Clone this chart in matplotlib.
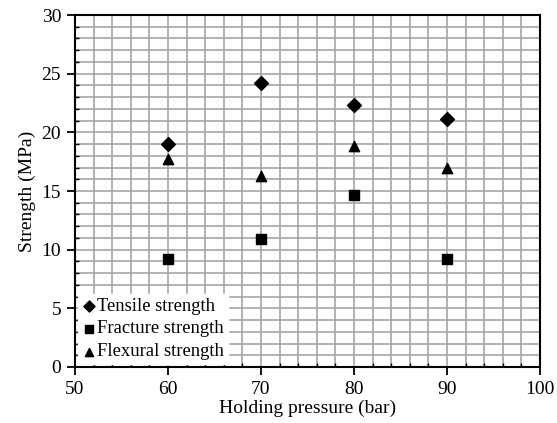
import matplotlib
matplotlib.use("Agg")
import matplotlib.pyplot as plt
from matplotlib.ticker import MultipleLocator

plt.rcParams['font.family'] = ['Liberation Serif', 'DejaVu Serif']
plt.rcParams['font.size'] = 14

# ---------------- DATA ----------------
pressure = [60, 70, 80, 90]
tensile = [19.0, 24.2, 22.3, 21.1]
fracture = [9.2, 10.9, 14.7, 9.2]
flexural = [17.7, 16.3, 18.8, 17.0]

# ---------------- PLOT ----------------
fig = plt.figure(figsize=(5.57, 4.23), dpi=100)
ax = fig.add_axes([0.1346, 0.1324, 0.8349, 0.8321])

ax.scatter(pressure, tensile, marker="D", s=50, color="black", label="Tensile strength", zorder=3)
ax.scatter(pressure, fracture, marker="s", s=45, color="black", label="Fracture strength", zorder=3)
ax.scatter(pressure, flexural, marker="^", s=55, color="black", label="Flexural strength", zorder=3)

ax.set_xlim(50, 100)
ax.set_ylim(0, 30)
ax.xaxis.set_major_locator(MultipleLocator(10))
ax.xaxis.set_minor_locator(MultipleLocator(2))
ax.yaxis.set_major_locator(MultipleLocator(5))
ax.yaxis.set_minor_locator(MultipleLocator(1))

ax.grid(which="both", color="#a6a6a6", linewidth=1.2)
ax.set_axisbelow(True)

ax.tick_params(which="major", direction="out", length=6, width=1.3, labelsize=14, pad=4)
ax.tick_params(which="minor", direction="in", length=3, width=1)
for s in ax.spines.values():
    s.set_linewidth(1.5)

ax.set_xlabel("Holding pressure (bar)", fontsize=14, labelpad=1)
ax.set_ylabel("Strength (MPa)", fontsize=14, labelpad=4)

leg = ax.legend(loc="lower left", frameon=True, fancybox=False, framealpha=1,
                edgecolor="white", handletextpad=0.05, handlelength=0.8,
                borderaxespad=0.15, borderpad=0.2, labelspacing=0.32, fontsize=13.4,
                markerscale=0.8)

fig.savefig("out.png", dpi=100)
